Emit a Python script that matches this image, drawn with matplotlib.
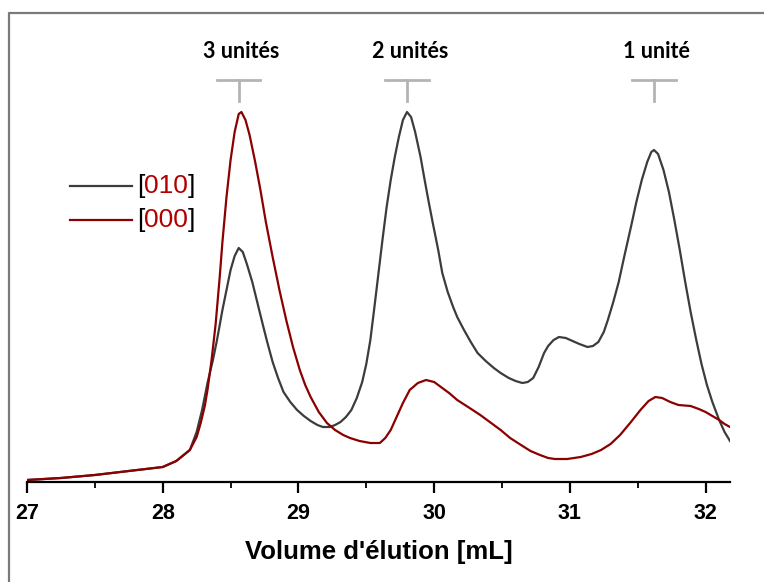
import matplotlib
matplotlib.use("Agg")
import matplotlib.pyplot as plt
from matplotlib.lines import Line2D

vol_010 = [27.0, 27.25, 27.5, 27.75, 28.0, 28.1, 28.2, 28.25, 28.29, 28.33, 28.37,
           28.40, 28.44, 28.47, 28.50, 28.53, 28.56, 28.59, 28.62, 28.66, 28.70,
           28.74, 28.77, 28.81, 28.85, 28.89, 28.94, 28.99, 29.04, 29.09, 29.14,
           29.18, 29.23, 29.27, 29.31, 29.35, 29.39, 29.43, 29.47, 29.50, 29.53,
           29.56, 29.59, 29.62, 29.65, 29.68, 29.71, 29.74, 29.77, 29.80, 29.83,
           29.86, 29.90, 29.93, 29.96, 29.99, 30.03, 30.06, 30.10, 30.14, 30.17,
           30.22, 30.27, 30.32, 30.38, 30.44, 30.49, 30.55, 30.60, 30.65, 30.69,
           30.73, 30.77, 30.81, 30.84, 30.88, 30.92, 30.97, 31.02, 31.07, 31.13,
           31.17, 31.21, 31.25, 31.28, 31.32, 31.36, 31.40, 31.45, 31.49, 31.53,
           31.57, 31.60, 31.62, 31.65, 31.69, 31.73, 31.77, 31.81, 31.85, 31.89,
           31.93, 31.97, 32.01, 32.05, 32.10, 32.14, 32.18]
sig_010 = [2, 4, 7, 11, 15, 21, 32, 50, 72, 99, 122,
           142, 172, 192, 212, 226, 234, 230, 218, 200, 178,
           156, 140, 120, 104, 90, 80, 72, 66, 61, 57,
           55, 55, 57, 60, 65, 72, 84, 100, 118, 142,
           175, 209, 243, 275, 302, 325, 345, 362, 370, 365,
           350, 325, 302, 280, 259, 232, 209, 190, 175, 165,
           152, 140, 129, 121, 114, 109, 104, 101, 99, 100,
           104, 115, 129, 136, 142, 145, 144, 141, 138, 135,
           136, 140, 150, 162, 180, 200, 225, 255, 280, 302,
           320, 330, 332, 328, 312, 290, 262, 232, 200, 170,
           143, 118, 97, 80, 62, 50, 41]

vol_000 = [27.0, 27.25, 27.5, 27.75, 28.0, 28.1, 28.2, 28.25, 28.28, 28.31, 28.33,
           28.36, 28.39, 28.42, 28.44, 28.47, 28.50, 28.53, 28.56, 28.58, 28.61,
           28.64, 28.68, 28.72, 28.76, 28.81, 28.86, 28.91, 28.96, 29.01, 29.05,
           29.09, 29.15, 29.21, 29.27, 29.33, 29.38, 29.45, 29.53, 29.60, 29.64,
           29.68, 29.72, 29.77, 29.82, 29.88, 29.94, 30.00, 30.05, 30.11, 30.17,
           30.25, 30.34, 30.41, 30.49, 30.56, 30.64, 30.71, 30.78, 30.84, 30.89,
           30.98, 31.08, 31.16, 31.23, 31.30, 31.37, 31.45, 31.52, 31.58, 31.63,
           31.68, 31.74, 31.80, 31.89, 31.95, 32.00, 32.05, 32.10, 32.14, 32.18]
sig_000 = [2, 4, 7, 11, 15, 21, 32, 45, 59, 76, 92,
           122, 158, 205, 240, 285, 322, 350, 368, 370, 362,
           347, 321, 292, 260, 225, 192, 162, 135, 112, 97,
           85, 70, 59, 52, 47, 44, 41, 39, 39, 44,
           52, 64, 79, 92, 99, 102, 100, 95, 89, 82,
           75, 67, 60, 52, 44, 37, 31, 27, 24, 23,
           23, 25, 28, 32, 38, 47, 60, 72, 81, 85,
           84, 80, 77, 76, 73, 70, 66, 62, 58, 55]

codes = ["010", "000"]
couleurs = ["#3c3c3c", "#8b0000"]

pics = [28.56, 29.80, 31.62]
etiquettes = ["3 unités", "2 unités", "1 unité"]

ROUGE_TXT = "#b00000"
GRIS_CROCHET = "#b4b4b4"
POLICE_AXE = ["Liberation Sans Narrow", "Liberation Sans"]

fig = plt.figure(figsize=(7.64, 5.82), dpi=100)
ax = fig.add_axes([27 / 764, 1 - 482 / 582, (730 - 27) / 764, (482 - 20) / 582])

ax.plot(vol_010, sig_010, color=couleurs[0], lw=1.6, solid_joinstyle="round")
ax.plot(vol_000, sig_000, color=couleurs[1], lw=1.6, solid_joinstyle="round")

ax.set_xlim(27, 32.18)
ax.set_ylim(0, 462)

# axe x seul, comme dans Origin
for s in ["left", "right", "top"]:
    ax.spines[s].set_visible(False)
ax.spines["bottom"].set_linewidth(1.6)
ax.set_yticks([])
ax.set_xticks([27, 28, 29, 30, 31, 32])
ax.set_xticks([27.5, 28.5, 29.5, 30.5, 31.5], minor=True)
ax.tick_params(axis="x", which="major", length=8, width=1.6, direction="out", pad=7)
ax.tick_params(axis="x", which="minor", length=4.5, width=1.3, direction="out")
for lab in ax.get_xticklabels():
    lab.set_family(POLICE_AXE)
    lab.set_fontweight("bold")
    lab.set_fontsize(15.5)

ax.set_xlabel("Volume d'élution [mL]", fontsize=18.5, fontweight="bold",
              family=POLICE_AXE, labelpad=12)

# crochets et étiquettes des oligomères
for x, txt in zip(pics, etiquettes):
    ax.plot([x - 0.16, x + 0.16], [402, 402], color=GRIS_CROCHET, lw=2, clip_on=False)
    ax.plot([x, x], [402, 381], color=GRIS_CROCHET, lw=2, clip_on=False)
    ax.text(x + 0.02, 431, txt, ha="center", va="center", fontsize=15.5, fontweight="bold",
            family=["Lato", "DejaVu Sans"], clip_on=False)

# légende faite à la main : crochets noirs, chiffres rouges
leg_y = [296, 262]
for code, coul, y in zip(codes, couleurs, leg_y):
    ax.plot([27.32, 27.77], [y, y], color=coul, lw=1.6)
    t1 = ax.text(27.81, y, "[", ha="left", va="center", fontsize=19,
                 family="Liberation Sans", color="black")
    t2 = ax.annotate(code, xy=(1, 0), xycoords=t1, ha="left", va="bottom",
                     fontsize=19, family="Liberation Sans", color=ROUGE_TXT)
    ax.annotate("]", xy=(1, 0), xycoords=t2, ha="left", va="bottom",
                fontsize=19, family="Liberation Sans", color="black")

# cadre gris de la figure d'origine (coupé à droite et en bas)
fig.add_artist(Line2D([9 / 764, 9 / 764, 1], [0, 1 - 12.7 / 582, 1 - 12.7 / 582],
                      transform=fig.transFigure, color="#7a7a7a", lw=1.6))

fig.savefig("out.png", dpi=100)
